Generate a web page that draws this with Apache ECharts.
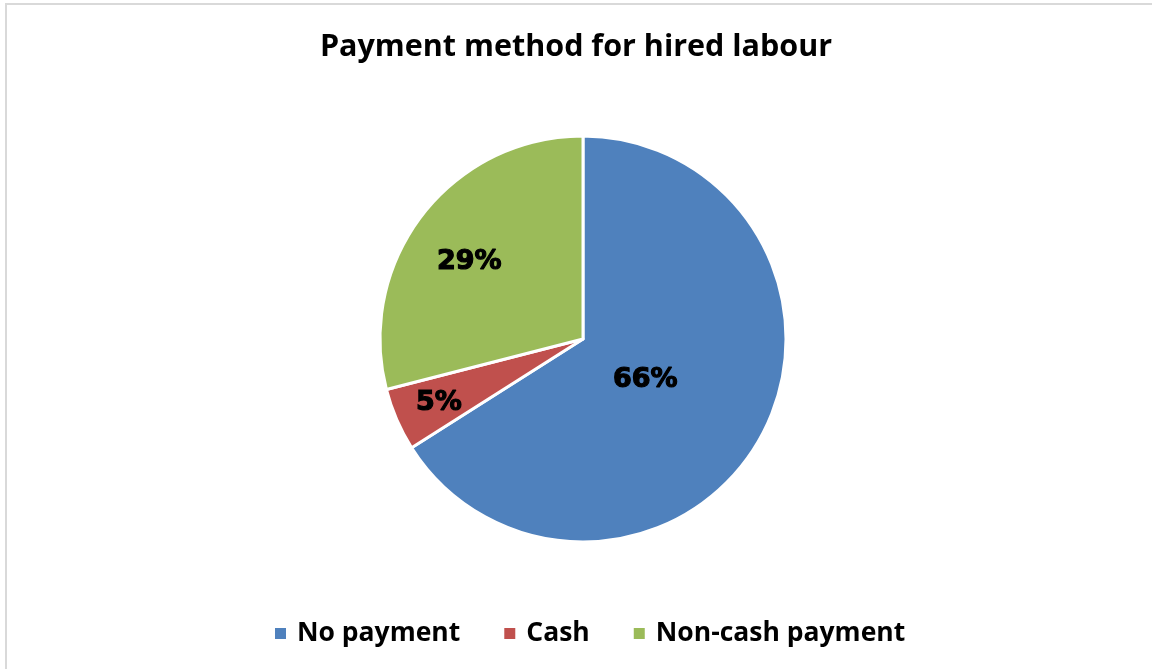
<!DOCTYPE html>
<html>
<head>
<meta charset="utf-8">
<script src="https://cdn.jsdelivr.net/npm/echarts@6/dist/echarts.min.js"></script>
<style>
  html, body { margin: 0; padding: 0; background: #ffffff; }
  #chart { width: 1152px; height: 669px; }
</style>
</head>
<body>
<div id="chart"></div>
<script>
// Payment method shares (percent)
const categories = ['No payment', 'Cash', 'Non-cash payment'];
const shares = [66, 5, 29];
const colors = ['#4f81bd', '#c0504d', '#9bbb59'];

// distance of each percentage label from the pie centre (px) and a small nudge
const labelDistance = [76, 155, 141];
const labelNudge = [[-7, 3], [1, 1], [0, 11]];

const CENTER = [583, 339];
const RADIUS = 203;

const chart = echarts.init(document.getElementById('chart'), null, { renderer: 'canvas' });

const baseData = categories.map((name, i) => ({ name, value: shares[i] }));

const labelFont = {
  fontFamily: 'DejaVu Sans',
  fontWeight: 'bold',
  fontSize: 27,
  color: '#000000',
  textBorderColor: '#000000',
  textBorderWidth: 1.2
};

// one transparent pie per slice, only used to place that slice's label
const labelSeries = categories.map((_, i) => ({
  type: 'pie',
  silent: true,
  center: CENTER,
  radius: [0, labelDistance[i] * 2],
  startAngle: 90,
  clockwise: true,
  z: 5,
  itemStyle: { color: 'rgba(0,0,0,0)', borderWidth: 0 },
  emphasis: { disabled: true },
  labelLine: { show: false },
  labelLayout: () => ({ dx: labelNudge[i][0], dy: labelNudge[i][1] }),
  data: baseData.map((d, j) => ({
    name: d.name,
    value: d.value,
    label: {
      show: j === i,
      position: 'inside',
      formatter: '{d}%',
      ...labelFont
    }
  }))
}));

chart.setOption({
  backgroundColor: '#ffffff',
  animation: false,
  title: {
    text: 'Payment method for hired labour',
    left: 'center',
    top: 27,
    textStyle: {
      fontFamily: 'Open Sans',
      fontWeight: 'bold',
      fontSize: 30.5,
      color: '#000000'
    }
  },
  legend: {
    bottom: 17,
    left: 268,
    itemWidth: 13,
    itemHeight: 13,
    itemGap: 42,
    icon: 'rect',
    data: categories,
    textStyle: {
      fontFamily: 'Open Sans',
      fontWeight: 'bold',
      fontSize: 26.5,
      color: '#000000',
      padding: [0, 0, 0, 5]
    }
  },
  graphic: [{
    type: 'rect',
    silent: true,
    shape: { x: 6, y: 4, width: 1200, height: 700 },
    style: { fill: 'none', stroke: '#d9d9d9', lineWidth: 2 }
  }],
  series: [{
    type: 'pie',
    center: CENTER,
    radius: [0, RADIUS],
    startAngle: 90,
    clockwise: true,
    label: { show: false },
    labelLine: { show: false },
    emphasis: { disabled: true },
    itemStyle: { borderColor: '#ffffff', borderWidth: 3 },
    data: baseData.map((d, i) => ({ ...d, itemStyle: { color: colors[i] } }))
  }, ...labelSeries]
});
</script>
</body>
</html>
